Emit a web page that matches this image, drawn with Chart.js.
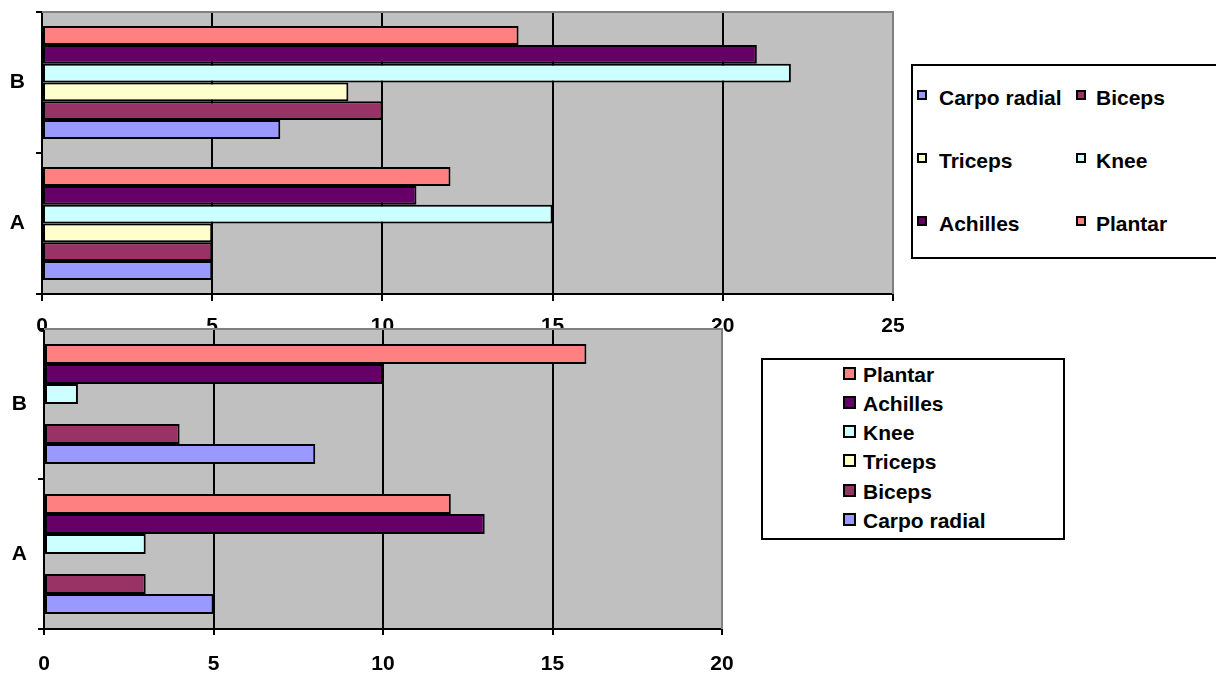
<!DOCTYPE html>
<html>
<head>
<meta charset="utf-8">
<script src="https://cdn.jsdelivr.net/npm/chart.js@4/dist/chart.umd.min.js"></script>
<style>
  html, body { margin: 0; padding: 0; background: #fff; }
  #page { position: relative; width: 1216px; height: 674px; overflow: hidden;
          font-family: "Liberation Sans", Arial, sans-serif; font-weight: bold; color: #000; }
  canvas { position: absolute; }
  #upper { left: 0; top: 0; z-index: 1; }
  #lower { left: 0; top: 300px; z-index: 2; }
  .box { position: absolute; border: 2px solid #000; background: #fff; box-sizing: border-box; z-index: 3; }
  .item { position: absolute; font-size: 21px; line-height: 24px; white-space: nowrap; z-index: 4; }
  .sw { position: absolute; border: 2px solid #000; box-sizing: border-box; z-index: 4; }
</style>
</head>
<body>
<div id="page">
  <canvas id="upper" width="910" height="340"></canvas>
  <canvas id="lower" width="740" height="374"></canvas>
</div>
<script>
// Categories, listed top to bottom
const categories = ['B', 'A'];

// Series, listed in the order they stack inside a category (top to bottom)
const seriesNames  = ['Plantar', 'Achilles', 'Knee', 'Triceps', 'Biceps', 'Carpo radial'];
const seriesColors = ['#FF8080', '#660066', '#CCFFFF', '#FFFFCC', '#993366', '#9999FF'];

// Upper chart values, [B, A]
const upperPlantar  = [14, 12];
const upperAchilles = [21, 11];
const upperKnee     = [22, 15];
const upperTriceps  = [9, 5];
const upperBiceps   = [10, 5];
const upperCarpo    = [7, 5];
const upperTicks    = [0, 5, 10, 15, 20, 25];

// Lower chart values, [B, A]
const lowerPlantar  = [16, 12];
const lowerAchilles = [10, 13];
const lowerKnee     = [1, 3];
const lowerTriceps  = [0, 0];
const lowerBiceps   = [4, 3];
const lowerCarpo    = [8, 5];
const lowerTicks    = [0, 5, 10, 15, 20];

const FONT = "'Liberation Sans', Arial, sans-serif";
Chart.defaults.font.family = FONT;
Chart.defaults.font.weight = 'bold';
Chart.defaults.font.size = 21;
Chart.defaults.color = '#000';

// Grey plot background plus the grey top and right frame lines
const plotFrame = {
  id: 'plotFrame',
  beforeDraw(chart) {
    const { ctx, chartArea: a } = chart;
    ctx.save();
    ctx.fillStyle = '#C0C0C0';
    ctx.fillRect(a.left, a.top, a.right - a.left, a.bottom - a.top);
    ctx.restore();
  },
  beforeDatasetsDraw(chart) {
    const { ctx, chartArea: a } = chart;
    ctx.save();
    ctx.strokeStyle = '#808080';
    ctx.lineWidth = 2;
    ctx.beginPath();
    ctx.moveTo(a.left, a.top);
    ctx.lineTo(a.right, a.top);
    ctx.lineTo(a.right, a.bottom);
    ctx.stroke();
    ctx.restore();
  }
};

// Fix an axis to a set thickness with no automatic label padding
function fixSize(prop, size) {
  return s => {
    s[prop] = size;
    s.paddingTop = 0; s.paddingBottom = 0; s.paddingLeft = 0; s.paddingRight = 0;
  };
}

function makeChart(canvas, values, ticks, geom) {
  const maxV = ticks[ticks.length - 1];
  const datasets = seriesNames.map((name, i) => ({
    label: name,
    data: values[i],
    backgroundColor: seriesColors[i],
    borderColor: '#000',
    borderWidth: c => (c.raw === 0 ? 0 : 2),
    borderSkipped: false,
    categoryPercentage: 0.8,
    barPercentage: 1.0
  }));
  return new Chart(canvas, {
    type: 'bar',
    data: { labels: categories, datasets },
    plugins: [plotFrame],
    options: {
      indexAxis: 'y',
      responsive: false,
      animation: false,
      layout: { padding: { top: geom.top, right: geom.right, left: 0, bottom: 0 } },
      plugins: { legend: { display: false }, tooltip: { enabled: false } },
      scales: {
        x: {
          min: ticks[0], max: maxV,
          afterBuildTicks: s => { s.ticks = ticks.map(v => ({ value: v })); },
          grid: {
            color: c => (c.tick && c.tick.value === maxV ? '#808080' : '#000'),
            tickColor: '#000', lineWidth: 2, tickLength: geom.xTick, drawTicks: true
          },
          border: { color: '#000', width: 2 },
          ticks: { color: '#000', padding: geom.xPad, maxRotation: 0, autoSkip: false,
                   font: { size: 21, weight: 'bold' } },
          afterFit: fixSize('height', geom.xHeight)
        },
        y: {
          grid: { drawOnChartArea: false, drawTicks: true, tickLength: 6, color: '#000',
                  lineWidth: 2, offset: true },
          border: { color: '#000', width: 2 },
          ticks: { color: '#000', padding: 11, font: { size: 21, weight: 'bold' } },
          afterFit: fixSize('width', geom.yWidth)
        }
      }
    }
  });
}

// HTML legend built from a chart's datasets
function buildLegend(chart, spec) {
  const page = document.getElementById('page');
  const box = document.createElement('div');
  box.className = 'box';
  Object.assign(box.style, { left: spec.box[0] + 'px', top: spec.box[1] + 'px',
                             width: spec.box[2] + 'px', height: spec.box[3] + 'px' });
  page.appendChild(box);
  const ds = chart.data.datasets;
  const order = spec.reverse ? ds.slice().reverse() : ds;
  order.forEach((d, k) => {
    const col = k % spec.cols, row = Math.floor(k / spec.cols);
    const cy = spec.rowY + row * spec.rowStep;
    const sw = document.createElement('div');
    sw.className = 'sw';
    Object.assign(sw.style, { left: spec.swX[col] + 'px', top: (cy - spec.sw / 2 - spec.swLift) + 'px',
                              width: spec.sw + 'px', height: spec.sw + 'px', background: d.backgroundColor });
    page.appendChild(sw);
    const t = document.createElement('div');
    t.className = 'item';
    t.textContent = d.label;
    Object.assign(t.style, { left: spec.txX[col] + 'px', top: (cy - 12) + 'px' });
    page.appendChild(t);
  });
}

const upper = makeChart(document.getElementById('upper'),
  [upperPlantar, upperAchilles, upperKnee, upperTriceps, upperBiceps, upperCarpo],
  upperTicks, { top: 12, right: 17, xHeight: 46, yWidth: 42, xTick: 7, xPad: 13 });

const lower = makeChart(document.getElementById('lower'),
  [lowerPlantar, lowerAchilles, lowerKnee, lowerTriceps, lowerBiceps, lowerCarpo],
  lowerTicks, { top: 29, right: 18, xHeight: 45, yWidth: 44, xTick: 6, xPad: 17 });

buildLegend(upper, { box: [911, 64, 330, 195], cols: 2, reverse: true,
  swX: [917, 1076], txX: [939, 1096], rowY: 98, rowStep: 62.8, sw: 10, swLift: 3 });

buildLegend(lower, { box: [761, 358, 304, 182], cols: 1, reverse: false,
  swX: [843], txX: [863], rowY: 375, rowStep: 29.15, sw: 13, swLift: 1.5 });
</script>
</body>
</html>
